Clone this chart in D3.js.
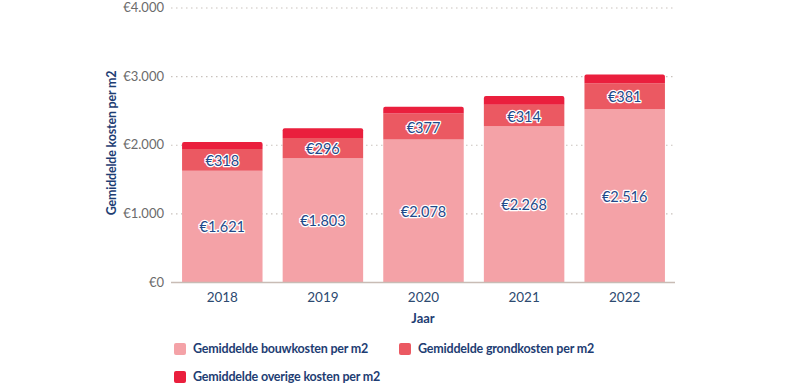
<!DOCTYPE html>
<html>
<head>
<meta charset="utf-8">
<script src="https://cdn.jsdelivr.net/npm/d3@7"></script>
<style>
  body { margin: 0; background: #fff; }
  text { font-family: Lato, "Open Sans", sans-serif; }
</style>
</head>
<body>
<div id="chart"></div>
<script>
var years = ['2018', '2019', '2020', '2021', '2022'];
var bouwkosten = [1621, 1803, 2078, 2268, 2516];
var grondkosten = [318, 296, 377, 314, 381];
var overigeKosten = [102, 142, 98, 130, 125];
var yTicks = [0, 1000, 2000, 3000, 4000];
var seriesNames = ['Gemiddelde bouwkosten per m2', 'Gemiddelde grondkosten per m2', 'Gemiddelde overige kosten per m2'];
var seriesColors = ['#f4a2a7', '#eb5962', '#ea1f3d'];

var width = 786, height = 390;
var svg = d3.select('#chart').append('svg')
	.attr('width', width)
	.attr('height', height);

var x = d3.scaleBand().domain(years).range([172, 675]).paddingInner(0.2).paddingOuter(0.1);
var y = d3.scaleLinear().domain([0, 4000]).range([282, 7.5]);

var fmt = function (v) {
	return '€' + d3.format(',')(v).replace(/,/g, '.');
};

// grid
svg.append('g').selectAll('line')
	.data(yTicks.slice(1))
	.enter().append('line')
	.attr('x1', 171).attr('x2', 675)
	.attr('y1', function (d) { return y(d) + 0.5; })
	.attr('y2', function (d) { return y(d) + 0.5; })
	.attr('stroke', '#c9c2bd')
	.attr('stroke-width', 1.2)
	.attr('stroke-dasharray', '1.5,3.5');

// y tick labels
svg.append('g').selectAll('text')
	.data(yTicks)
	.enter().append('text')
	.attr('x', 164)
	.attr('y', function (d) { return y(d); })
	.attr('dy', '0.35em')
	.attr('text-anchor', 'end')
	.attr('fill', '#6b6b6b')
	.attr('font-size', 13)
	.text(fmt);

// stacked data
var rows = years.map(function (yr, i) {
	return { year: yr, bouw: bouwkosten[i], grond: grondkosten[i], overig: overigeKosten[i] };
});
var stack = d3.stack().keys(['bouw', 'grond', 'overig'])(rows);

var layers = svg.append('g').selectAll('g')
	.data(stack)
	.enter().append('g')
	.attr('fill', function (d, i) { return seriesColors[i]; });

layers.selectAll('path')
	.data(function (d) { return d.map(function (p) { return { p: p, key: d.key }; }); })
	.enter().append('path')
	.attr('d', function (d) {
		var x0 = x(d.p.data.year), w = x.bandwidth();
		var y0 = y(d.p[1]), y1 = y(d.p[0]);
		if (d.key === 'overig') {
			var r = 2;
			return 'M' + x0 + ',' + y1 + 'V' + (y0 + r) + 'Q' + x0 + ',' + y0 + ' ' + (x0 + r) + ',' + y0 +
				'H' + (x0 + w - r) + 'Q' + (x0 + w) + ',' + y0 + ' ' + (x0 + w) + ',' + (y0 + r) + 'V' + y1 + 'Z';
		}
		return 'M' + x0 + ',' + y1 + 'V' + y0 + 'H' + (x0 + w) + 'V' + y1 + 'Z';
	});

// value labels for bouw and grond
var labels = svg.append('g');
stack.slice(0, 2).forEach(function (layer) {
	labels.selectAll(null)
		.data(layer)
		.enter().append('text')
		.attr('x', function (d) { return x(d.data.year) + x.bandwidth() / 2; })
		.attr('y', function (d) { return (y(d[0]) + y(d[1])) / 2 + 1; })
		.attr('dy', '0.35em')
		.attr('text-anchor', 'middle')
		.attr('font-size', 14.5)
		.attr('fill', '#1f4a8a')
		.attr('stroke', '#fff')
		.attr('stroke-width', 2.5)
		.attr('paint-order', 'stroke')
		.attr('stroke-linejoin', 'round')
		.text(function (d) { return fmt(d[1] - d[0]); });
});

// x axis line
svg.append('line')
	.attr('x1', 171).attr('x2', 675)
	.attr('y1', 282.5).attr('y2', 282.5)
	.attr('stroke', '#c8bcb5')
	.attr('stroke-width', 1.5);

svg.append('g').selectAll('text')
	.data(years)
	.enter().append('text')
	.attr('x', function (d) { return x(d) + x.bandwidth() / 2; })
	.attr('y', 297)
	.attr('dy', '0.35em')
	.attr('text-anchor', 'middle')
	.attr('fill', '#2d4a70')
	.attr('font-size', 13.5)
	.text(function (d) { return d; });

svg.append('text')
	.attr('x', 423).attr('y', 318)
	.attr('dy', '0.35em')
	.attr('text-anchor', 'middle')
	.attr('fill', '#1e3d73')
	.attr('font-size', 13)
	.attr('font-weight', 'bold')
	.text('Jaar');

svg.append('text')
	.attr('transform', 'translate(112,143) rotate(-90)')
	.attr('dy', '0.35em')
	.attr('text-anchor', 'middle')
	.attr('fill', '#1e3d73')
	.attr('font-size', 12.5)
	.attr('letter-spacing', -0.2)
	.attr('font-weight', 'bold')
	.text('Gemiddelde kosten per m2');

// legend
var legendPos = [[174, 349], [399, 349], [174, 377]];
var legend = svg.append('g').selectAll('g')
	.data(seriesNames)
	.enter().append('g')
	.attr('transform', function (d, i) { return 'translate(' + legendPos[i][0] + ',' + legendPos[i][1] + ')'; });

legend.append('rect')
	.attr('x', 0).attr('y', -6)
	.attr('width', 12).attr('height', 12)
	.attr('rx', 2)
	.attr('fill', function (d, i) { return seriesColors[i]; });

legend.append('text')
	.attr('x', 19).attr('y', 0)
	.attr('dy', '0.35em')
	.attr('fill', '#1e3d73')
	.attr('font-size', 12.5)
	.attr('letter-spacing', -0.2)
	.attr('font-weight', 'bold')
	.text(function (d) { return d; });
</script>
</body>
</html>
